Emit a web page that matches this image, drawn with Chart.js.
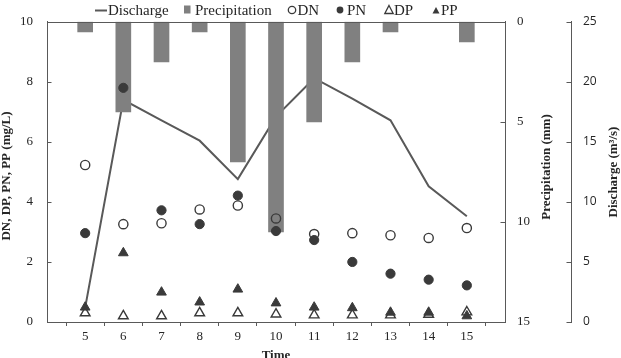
<!DOCTYPE html>
<html><head><meta charset="utf-8">
<script src="https://cdn.jsdelivr.net/npm/chart.js@4/dist/chart.umd.min.js"></script>
<style>html,body{margin:0;padding:0;background:#fff}#wrap{width:621px;height:358px;position:relative}</style>
</head><body><div id="wrap"><canvas id="c" width="621" height="358"></canvas></div>
<script>
// ---- data ----
const times = [5, 6, 7, 8, 9, 10, 11, 12, 13, 14, 15];
const discharge = [1.2, 18.5, 16.8, 15.1, 11.9, 17.1, 20.3, 18.6, 16.8, 11.3, 8.8];
const precipitation = [0.5, 4.5, 2.0, 0.5, 7.0, 10.5, 5.0, 2.0, 0.5, 0, 1.0];
const DN = [5.23, 3.26, 3.29, 3.75, 3.88, 3.45, 2.93, 2.96, 2.89, 2.80, 3.13];
const PN = [2.96, 7.80, 3.72, 3.26, 4.21, 3.03, 2.73, 2.00, 1.61, 1.41, 1.22];
const DP = [0.30, 0.20, 0.20, 0.30, 0.30, 0.26, 0.23, 0.23, 0.23, 0.25, 0.33];
const PP = [0.49, 2.30, 0.99, 0.66, 1.09, 0.63, 0.49, 0.47, 0.32, 0.32, 0.20];
const leftTicks = [0, 2, 4, 6, 8, 10];
const precipTicks = [0, 5, 10, 15];
const dischargeTicks = [0, 5, 10, 15, 20, 25];
const legendLabels = ['Discharge', 'Precipitation', 'DN', 'PN', 'DP', 'PP'];
const titles = {left: 'DN, DP, PN, PP (mg/L)', precip: 'Precipitation (mm)', discharge: 'Discharge (m³/s)', x: 'Time'};

const SERIF = '"Liberation Serif", "Times New Roman", serif';
const SANS = '"Open Sans", "Liberation Sans", sans-serif';
const TXT = '#262626';
const AXIS = '#595959';
const LINE = '#595959';
const BAR = '#808080';
const MARK = '#3a3a3a';

const pts = arr => times.map((t, i) => ({x: t, y: arr[i]}));
const fixedTicks = list => (scale => { scale.ticks = list.map(v => ({value: v})); });

const helpers = {
  id: 'helpers',
  afterDraw(chart) {
    const ctx = chart.ctx;
    const {y, y1, y2} = chart.scales;
    const area = chart.chartArea;
    ctx.save();
    ctx.strokeStyle = AXIS; ctx.lineWidth = 1;
    // top border of plot box
    const ty = Math.round(area.top) + 0.5;
    ctx.beginPath(); ctx.moveTo(Math.round(area.left), ty); ctx.lineTo(Math.round(area.right) + 1, ty); ctx.stroke();
    // inward tick marks on vertical axes
    const tickMarks = (scale, x0, dir, len) => {
      scale.ticks.forEach((t, i) => {
        const py = Math.round(scale.getPixelForTick(i)) + 0.5;
        ctx.beginPath(); ctx.moveTo(x0, py); ctx.lineTo(x0 + dir * len, py); ctx.stroke();
      });
    };
    tickMarks(y, Math.round(y.right) + 0.5, 1, 4);
    tickMarks(y1, Math.round(y1.left) + 0.5, -1, 5);
    tickMarks(y2, Math.round(y2.left) + 0.5, -1, 5);
    // vertical axis titles (all read bottom-to-top)
    ctx.fillStyle = TXT;
    ctx.font = 'bold 13px ' + SERIF;
    ctx.textAlign = 'center'; ctx.textBaseline = 'middle';
    const vtitle = (text, x, yy) => {
      ctx.save(); ctx.translate(x, yy); ctx.rotate(-Math.PI / 2); ctx.fillText(text, 0, 0); ctx.restore();
    };
    vtitle(titles.left, 7, 176);
    vtitle(titles.precip, 547, 167);
    vtitle(titles.discharge, 614, 172);
    // legend
    ctx.font = '15px ' + SERIF;
    ctx.textAlign = 'left'; ctx.textBaseline = 'alphabetic';
    const base = 15;
    ctx.strokeStyle = LINE; ctx.lineWidth = 2;
    ctx.beginPath(); ctx.moveTo(95, 10.5); ctx.lineTo(107, 10.5); ctx.stroke();
    ctx.fillText(legendLabels[0], 108, base);
    ctx.fillStyle = BAR; ctx.fillRect(184, 5.5, 6.5, 8);
    ctx.fillStyle = TXT; ctx.fillText(legendLabels[1], 195, base);
    ctx.strokeStyle = MARK; ctx.lineWidth = 1.3;
    ctx.beginPath(); ctx.arc(292, 10, 3.7, 0, Math.PI * 2); ctx.stroke();
    ctx.fillText(legendLabels[2], 297.5, base);
    ctx.fillStyle = MARK; ctx.beginPath(); ctx.arc(340, 10, 3.4, 0, Math.PI * 2); ctx.fill();
    ctx.fillStyle = TXT; ctx.fillText(legendLabels[3], 347, base);
    ctx.beginPath(); ctx.moveTo(389, 5.5); ctx.lineTo(393.2, 13.5); ctx.lineTo(384.8, 13.5); ctx.closePath(); ctx.stroke();
    ctx.fillText(legendLabels[4], 394, base);
    ctx.fillStyle = MARK; ctx.beginPath(); ctx.moveTo(436, 7); ctx.lineTo(439.5, 13.5); ctx.lineTo(432.5, 13.5); ctx.closePath(); ctx.fill();
    ctx.fillStyle = TXT; ctx.fillText(legendLabels[5], 441, base);
    ctx.restore();
  }
};

new Chart(document.getElementById('c'), {
  type: 'bar',
  data: {
    datasets: [
      {type: 'line', label: 'PP', data: pts(PP), yAxisID: 'y', showLine: false, pointStyle: 'triangle',
       pointRadius: 5.6, pointBackgroundColor: MARK, pointBorderColor: MARK, pointBorderWidth: 1, order: 0},
      {type: 'line', label: 'DP', data: pts(DP), yAxisID: 'y', showLine: false, pointStyle: 'triangle',
       pointRadius: 5.6, pointBackgroundColor: '#ffffff', pointBorderColor: MARK, pointBorderWidth: 1.4, order: 1},
      {type: 'line', label: 'PN', data: pts(PN), yAxisID: 'y', showLine: false, pointStyle: 'circle',
       pointRadius: 4.6, pointBackgroundColor: MARK, pointBorderColor: MARK, pointBorderWidth: 1, order: 2},
      {type: 'line', label: 'DN', data: pts(DN), yAxisID: 'y', showLine: false, pointStyle: 'circle',
       pointRadius: 4.6, pointBackgroundColor: 'rgba(0,0,0,0)', pointBorderColor: MARK, pointBorderWidth: 1.4, order: 3},
      {type: 'bar', label: 'Precipitation', data: pts(precipitation), yAxisID: 'y1',
       backgroundColor: c => (c.raw && c.raw.y > 0 ? BAR : 'rgba(0,0,0,0)'),
       borderWidth: 0, barThickness: 15, order: 4},
      {type: 'line', label: 'Discharge', data: pts(discharge), yAxisID: 'y2', borderColor: LINE, borderWidth: 2,
       pointRadius: 0, tension: 0, fill: false, order: 5}
    ]
  },
  options: {
    responsive: false, animation: false, devicePixelRatio: 1,
    layout: {padding: {top: 18, left: 0, right: 0, bottom: 0}},
    plugins: {legend: {display: false}, tooltip: {enabled: false}},
    scales: {
      x: {
        type: 'linear', position: 'bottom', min: 4, max: 16, offset: false,
        afterBuildTicks: fixedTicks(times),
        afterFit: s => { s.height = 36; },
        grid: {drawOnChartArea: false, drawTicks: true, tickLength: 4, color: AXIS},
        border: {display: true, color: AXIS, width: 1},
        ticks: {color: TXT, font: {family: SERIF, size: 13}, padding: 3, maxRotation: 0, autoSkip: false},
        title: {display: true, text: titles.x, color: TXT, font: {family: SERIF, size: 13, weight: 'bold', lineHeight: 1},
                padding: {top: 0, bottom: -4.5}}
      },
      y: {
        type: 'linear', position: 'left', min: 0, max: 10,
        afterBuildTicks: fixedTicks(leftTicks),
        afterFit: s => { s.width = 47; },
        grid: {display: false, drawTicks: false},
        border: {display: true, color: AXIS, width: 1},
        ticks: {color: TXT, font: {family: SERIF, size: 13}, padding: 14}
      },
      y1: {
        type: 'linear', position: 'right', reverse: true, min: 0, max: 15, weight: 0,
        afterBuildTicks: fixedTicks(precipTicks),
        afterFit: s => { s.width = 66; },
        grid: {display: false, drawTicks: false},
        border: {display: true, color: AXIS, width: 1},
        ticks: {color: TXT, font: {family: SERIF, size: 13}, padding: 12}
      },
      y2: {
        type: 'linear', position: 'right', min: 0, max: 25, weight: 1,
        afterBuildTicks: fixedTicks(dischargeTicks),
        afterFit: s => { s.width = 50; },
        grid: {display: false, drawTicks: false},
        border: {display: true, color: AXIS, width: 1},
        ticks: {color: TXT, font: {family: SANS, size: 12}, padding: 12}
      }
    }
  },
  plugins: [helpers]
});
</script></body></html>
